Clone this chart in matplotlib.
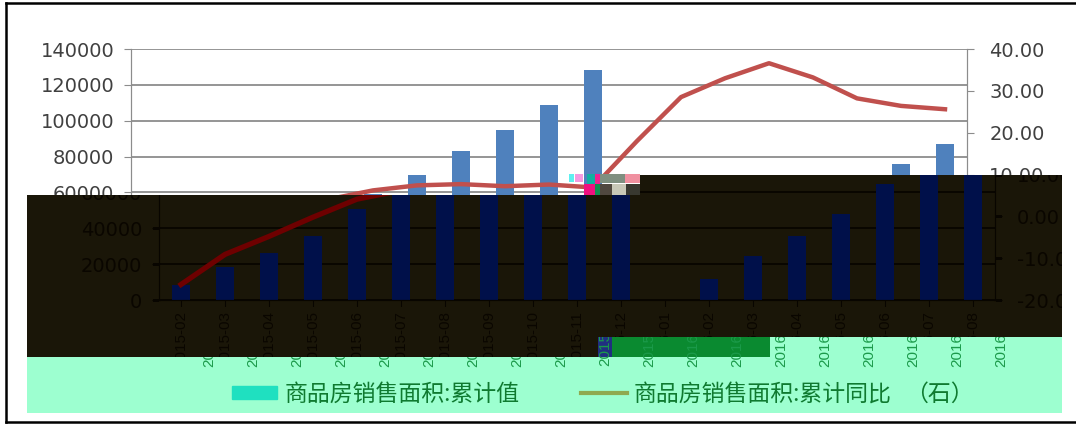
import numpy as np
import matplotlib
matplotlib.use('Agg')
import matplotlib.pyplot as plt
from matplotlib.lines import Line2D
from matplotlib.patches import Patch, PathPatch, Rectangle
from matplotlib.path import Path
from matplotlib.transforms import Bbox, IdentityTransform

# data
months = ['2015-02', '2015-03', '2015-04', '2015-05', '2015-06', '2015-07', '2015-08',
          '2015-09', '2015-10', '2015-11', '2015-12', '2016-01', '2016-02', '2016-03',
          '2016-04', '2016-05', '2016-06', '2016-07', '2016-08']
area_total = [8500, 18300, 26000, 35500, 50500, 59000, 69500, 83000, 95000, 109000,
              128500, np.nan, 11500, 24500, 35500, 47700, 64500, 76000, 87000]
area_yoy = [-16.3, -9.1, -4.8, -0.2, 4.1, 6.2, 7.4, 7.7, 7.2, 7.6,
            6.9, 18.0, 28.5, 33.0, 36.6, 33.2, 28.2, 26.4, 25.6]
left_ticks = [0, 20000, 40000, 60000, 80000, 100000, 120000, 140000]
right_ticks = [-20, -10, 0, 10, 20, 30, 40]

W, H = 1076, 424
x_pos = np.arange(len(months))
plt.rcParams['font.family'] = ['DejaVu Sans']
label_font = ['Liberation Sans Narrow', 'Liberation Sans', 'DejaVu Sans']
cjk_font = ['Noto Sans CJK SC', 'DejaVu Sans']

fig = plt.figure(figsize=(W / 100, H / 100), dpi=100, facecolor='white')
px = IdentityTransform()


def py(y):
    # y counted from the top of the picture, as in the reference
    return H - y


def make_axes(shift, zorder):
    ax = fig.add_axes([(131 + shift) / W, py(300) / H, 836 / W, 251 / H], zorder=zorder)
    ax.patch.set_visible(False)
    ax.set_xlim(-0.5, len(months) - 0.5)
    ax.set_ylim(0, 140000)
    ax.set_yticks(left_ticks)
    ax.set_xticks(x_pos)
    ax.set_xticklabels(months, rotation=90, family=label_font, fontsize=11)
    ax.spines['top'].set_visible(False)
    return ax


def draw_chart(shift, zorder, bar_c, line_c, grid_c, axis_c, text_c, line_w):
    ax = make_axes(shift, zorder)
    ax.set_axisbelow(True)
    ax.grid(axis='y', color=grid_c, linewidth=1.3)
    ax.bar(x_pos, area_total, width=0.4, color=bar_c)
    ax.tick_params(axis='y', length=5, pad=7, colors=text_c, labelsize=14, color=axis_c)
    ax.tick_params(axis='x', length=4, pad=4, colors=text_c, color=axis_c)
    ax2 = ax.twinx()
    ax2.set_zorder(zorder)
    ax2.patch.set_visible(False)
    ax2.plot(x_pos, area_yoy, color=line_c, linewidth=line_w)
    ax2.set_ylim(-20, 40)
    ax2.set_yticks(right_ticks)
    ax2.set_yticklabels([f'{t:.2f}' for t in right_ticks])
    ax2.tick_params(axis='y', length=5, pad=11, colors=text_c, labelsize=14, color=axis_c)
    ax2.spines['top'].set_visible(False)
    for a in (ax, ax2):
        for s in a.spines.values():
            s.set_color(axis_c)
    return ax, ax2


# normal white chart
draw_chart(0, 1, '#4f81bd', '#c0504d', '#8c8c8c', '#8c8c8c', '#404040', 3.2)

# glitch blocks round the chart's middle
mosaic = [(569, 174, 5, 8, '#5ff0f0'), (575, 174, 8, 8, '#f59ae0'), (587, 174, 8, 10, '#10b0a0'),
          (595, 174, 5, 10, '#f02090'), (600, 174, 25, 9, '#7f8f80'), (625, 174, 15, 9, '#f090a0'),
          (584, 184, 11, 11, '#f01080'), (595, 184, 5, 11, '#109050'), (600, 184, 12, 11, '#504840'),
          (612, 184, 14, 11, '#c8c8b8'), (626, 184, 14, 11, '#383830')]
for x0, y0, w, h, c in mosaic:
    fig.add_artist(Rectangle((x0, py(y0 + h)), w, h, transform=px, color=c, zorder=1.5, lw=0))

# dark shifted band
dark_outline = Path([(27, py(195)), (640, py(195)), (640, py(175)), (1062, py(175)),
                     (1062, py(357)), (27, py(357)), (27, py(195))])
fig.add_artist(PathPatch(dark_outline, transform=px, facecolor='#1a1608', edgecolor='none', zorder=2))
dark_axes = draw_chart(28, 3, '#00104a', '#6e0000', '#080500', '#080500', '#0a0600', 3.8)
for a in dark_axes:
    for art in a.findobj(lambda o: isinstance(o, (Line2D, Patch))):
        art.set_clip_box(None)
        art.set_clip_path(dark_outline, px)
        art.set_clip_on(True)
for lab in dark_axes[0].get_yticklabels():
    lab.set_clip_box(Bbox.from_extents(27, py(357), 640, py(195)))
    lab.set_clip_on(True)
for lab in dark_axes[1].get_yticklabels():
    lab.set_clip_box(Bbox.from_extents(640, py(357), 1062, py(175)))
    lab.set_clip_on(True)

# teal band, its labels are shifted once more
teal_outline = Path([(27, py(357)), (598, py(357)), (598, py(337)), (1062, py(337)),
                     (1062, py(413)), (27, py(413)), (27, py(357))])
fig.add_artist(PathPatch(teal_outline, transform=px, facecolor='#9dffd0', edgecolor='none', zorder=4))
fig.add_artist(Rectangle((598, py(357)), 172, 20, transform=px, color='#0a8a30', zorder=4.2, lw=0))
fig.add_artist(Rectangle((598, py(357)), 14, 20, transform=px, color='#203080', zorder=4.3, lw=0))

teal_ax = make_axes(56, 5)
for s in teal_ax.spines.values():
    s.set_visible(False)
teal_ax.tick_params(axis='y', left=False, labelleft=False)
teal_ax.tick_params(axis='x', length=4, pad=4, colors='#1b9a4a', color=(0, 0, 0, 0))
for i, lab in enumerate(teal_ax.get_xticklabels()):
    top = 357 if 212 + 43.9 * i < 598 else 337
    lab.set_clip_box(Bbox.from_extents(27, py(413), 1062, py(top)))
    lab.set_clip_on(True)

legend_handles = [Patch(color='#1fe0c0'), Line2D([], [], color='#8faa50', linewidth=3)]
legend_labels = ['商品房销售面积:累计值', '商品房销售面积:累计同比']
leg = fig.legend(legend_handles, legend_labels, ncol=2, frameon=False,
                 loc='center left', bbox_to_anchor=(211 / W, py(394) / H),
                 prop={'family': cjk_font, 'size': 16.5},
                 labelcolor='#0f7a30', handlelength=2.0, handleheight=0.5,
                 handletextpad=0.3, columnspacing=2.7)
leg.set_zorder(6)
fig.text(905 / W, py(394) / H, '（石）', family=cjk_font, fontsize=16.5,
         color='#0f7a30', va='center', zorder=6)

# black frame, left, top and bottom only
for xs, ys in [((6, 6), (3, 422)), ((6, W), (3, 3)), ((6, W), (422, 422))]:
    fig.add_artist(Line2D(xs, [py(v) for v in ys], transform=px, color='black', linewidth=1.8, zorder=7))

fig.savefig('out.png', dpi=100)
